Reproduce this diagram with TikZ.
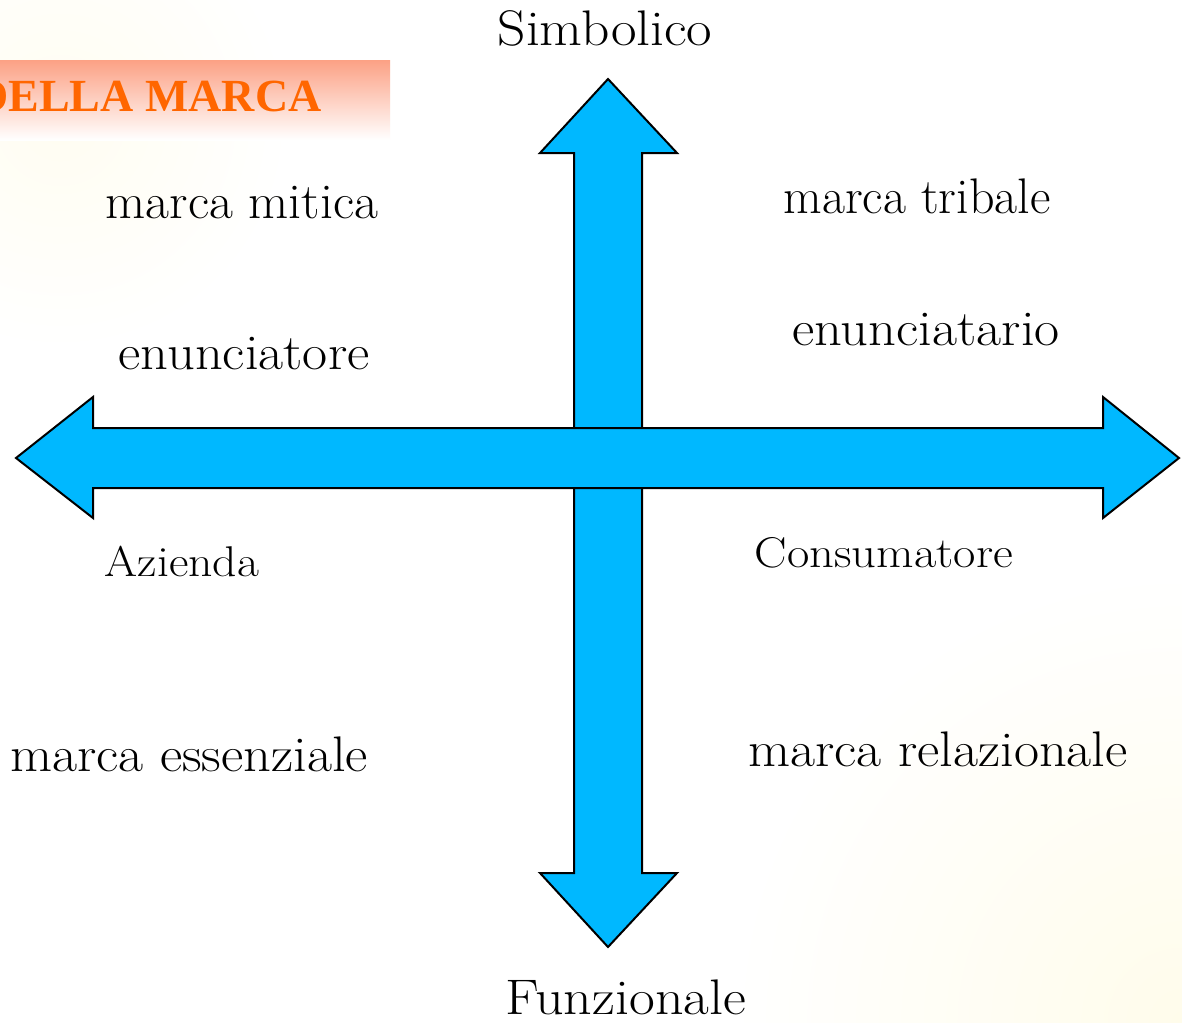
\documentclass[tikz,border=0pt]{standalone}
\usepackage{fontspec}
\newfontfamily\timesbold{Liberation Serif}
\usetikzlibrary{shadings}
\definecolor{arrowblue}{HTML}{00B8FF}
\definecolor{bannerorange}{HTML}{FF6600}
\definecolor{bannersalmon}{HTML}{FCA286}
\definecolor{cream}{HTML}{FFFCEB}
\newcommand\stretchx[2]{\scalebox{#1}[1]{#2}}
\tikzset{
  bigarrow/.style={fill=arrowblue, draw=black, line width=2pt, line join=miter},
  lbl/.style={anchor=base, inner sep=0pt, font=\fontsize{50}{56}\selectfont},
  smlbl/.style={anchor=base, inner sep=0pt, font=\fontsize{43}{50}\selectfont},
}
\begin{document}
\begin{tikzpicture}[x=1pt,y=-1pt]
\useasboundingbox (0,0) rectangle (1182,1022);
\clip (0,0) rectangle (1182,1022);
% faint background tints
\fill[white] (0,0) rectangle (1182,1022);
\shade[inner color=cream, outer color=white] (1182,1022) circle (450);
\shade[inner color=cream!70!white, outer color=white] (60,120) circle (230);
% banner
\shade[top color=bannersalmon, bottom color=white] (0,61) rectangle (390,140);
\node[anchor=base west, inner sep=0pt, text=bannerorange, font=\timesbold\bfseries\fontsize{46}{50}\selectfont] (banner) at (-25,112) {DELLA MARCA};
% vertical arrow
\draw[bigarrow] (608,79) coordinate (vtop) -- (677,153) -- (642,153) -- (642,873) -- (677,873)
  -- (608,947) coordinate (vbot) -- (540,873) -- (574,873) -- (574,153) -- (540,153) -- cycle;
% horizontal arrow
\draw[bigarrow] (16,458) coordinate (hleft) -- (93,397) -- (93,428) -- (1103,428) -- (1103,397)
  -- (1179,458) coordinate (hright) -- (1103,518) -- (1103,488) -- (93,488) -- (93,518) -- cycle;
% labels
\node[lbl] (simb) at (605,46) {\stretchx{1.11}{Simbolico}};
\node[lbl] (funz) at (626,1014) {\stretchx{1.12}{Funzionale}};
\node[lbl] (mitica) at (242,218) {\stretchx{1.04}{marca mitica}};
\node[lbl] (tribale) at (917,213) {marca tribale};
\node[lbl] (enunciatario) at (926,345) {\stretchx{1.09}{enunciatario}};
\node[lbl] (enunciatore) at (244,369) {\stretchx{1.09}{enunciatore}};
\node[smlbl] (azienda) at (182,576) {\stretchx{1.11}{Azienda}};
\node[smlbl] (consumatore) at (884,567) {\stretchx{1.13}{Consumatore}};
\node[lbl] (essenziale) at (189,771) {\stretchx{1.09}{marca essenziale}};
\node[lbl] (relazionale) at (938,766) {\stretchx{1.09}{marca relazionale}};
\end{tikzpicture}
\end{document}
